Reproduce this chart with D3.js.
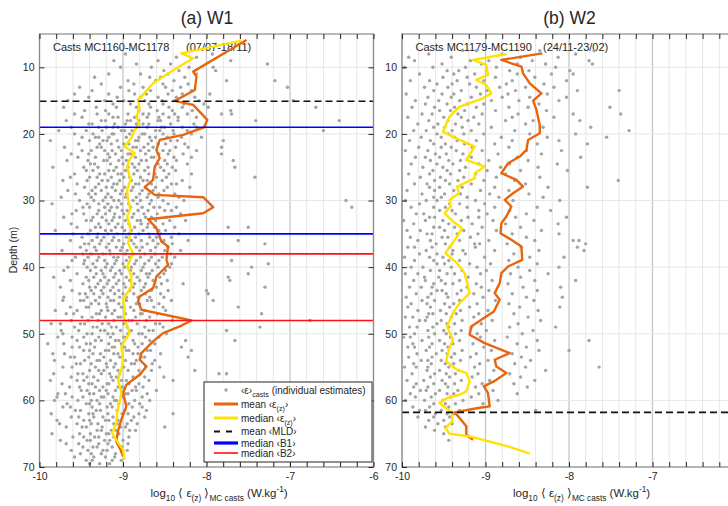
<!DOCTYPE html>
<html>
<head>
<meta charset="utf-8">
<script src="https://cdn.jsdelivr.net/npm/d3@7"></script>
<style>
    body { margin: 0; background: #fff; }
    text { font-family: "Liberation Sans", Arial, sans-serif; fill: #262626; }
</style>
</head>
<body>
<svg id="chart" width="728" height="506"></svg>
<script>
// ---- data ----
const titles = ["(a) W1", "(b) W2"];
const castLabels = ["Casts MC1160-MC1178", "Casts MC1179-MC1190"];
const dateLabels = ["(07/07-18/11)", "(24/11-23/02)"];
const xTicksW1 = [-10, -9, -8, -7, -6];
const xTicksW2 = [-10, -9, -8, -7];   // -6 falls outside the picture
const yTicks = [10, 20, 30, 40, 50, 60, 70];

// [depth (m), log10 eps]
const meanW1 = [[5.9,-7.52],[10.65,-8.16],[11.4,-8.12],[13.4,-8.14],[15.05,-8.38],[15.65,-8.16],[17.9,-7.99],[19.0,-8.03],
    [20.15,-8.28],[20.9,-8.56],[22.4,-8.60],[23.65,-8.56],[24.9,-8.62],[26.9,-8.64],[28.0,-8.74],[29.15,-8.62],[29.5,-8.04],
    [31.0,-7.92],[31.9,-8.04],[32.8,-8.70],[34.15,-8.60],[36.15,-8.54],[36.9,-8.46],[38.9,-8.48],[39.65,-8.46],[41.4,-8.60],
    [42.4,-8.62],[43.15,-8.64],[44.4,-8.80],[45.15,-8.82],[46.4,-8.78],[48.0,-8.18],[48.9,-8.32],[49.9,-8.52],[51.15,-8.64],
    [52.9,-8.78],[53.9,-8.80],[54.9,-8.72],[56.15,-8.80],[57.65,-8.96],[58.9,-9.0],[60.9,-8.96],[62.9,-9.02],[64.6,-9.06],
    [66.15,-9.08],[67.4,-9.03],[68.4,-9.0]];
const medianW1 = [[6.0,-7.58],[7.9,-8.30],[8.65,-8.16],[10.15,-8.36],[12.4,-8.64],[14.4,-8.78],[14.9,-8.82],[16.2,-8.80],
    [17.4,-8.84],[18.65,-8.80],[19.4,-8.86],[20.6,-8.90],[21.9,-8.98],[22.9,-8.86],[23.8,-8.92],[24.9,-8.95],[26.9,-8.91],
    [28.4,-8.95],[29.9,-8.94],[31.2,-8.91],[32.4,-8.95],[33.6,-8.92],[34.9,-8.91],[36.4,-8.94],[37.9,-8.88],[39.9,-8.95],
    [41.3,-8.90],[42.9,-8.90],[44.9,-9.0],[46.2,-8.98],[47.4,-8.99],[49.9,-8.92],[51.9,-9.02],[53.9,-9.0],[55.4,-9.02],
    [56.9,-9.06],[58.9,-9.02],[61.9,-9.07],[63.4,-9.08],[64.9,-9.13],[66.15,-9.07],[67.4,-9.0],[68.9,-8.98]];
const meanW2 = [[7.9,-8.32],[8.9,-8.81],[9.9,-8.57],[10.9,-8.55],[12.4,-8.47],[13.9,-8.33],[15.0,-8.43],[16.4,-8.39],
    [18.65,-8.35],[19.9,-8.35],[20.9,-8.49],[22.4,-8.51],[23.4,-8.59],[24.4,-8.73],[25.9,-8.81],[26.9,-8.63],[27.9,-8.55],
    [28.9,-8.67],[29.9,-8.77],[30.9,-8.69],[32.4,-8.75],[33.4,-8.81],[34.9,-8.82],[35.9,-8.69],[36.9,-8.57],[38.9,-8.56],
    [39.9,-8.73],[40.9,-8.81],[42.4,-8.83],[43.9,-8.89],[44.9,-8.83],[46.65,-8.90],[47.9,-9.05],[48.9,-9.17],[50.15,-9.19],
    [51.4,-9.01],[52.9,-8.71],[53.9,-8.89],[54.9,-8.87],[55.9,-8.75],[57.15,-8.90],[57.9,-9.02],[58.9,-8.97],[60.9,-8.95],
    [61.15,-9.09],[61.8,-9.37],[62.65,-9.31],[63.9,-9.23],[65.15,-9.23],[65.9,-9.15]];
const medianW2 = [[8.0,-8.75],[8.9,-9.15],[9.65,-8.99],[11.15,-8.97],[11.9,-9.11],[12.65,-8.99],[13.9,-8.93],[14.65,-9.03],
    [15.9,-9.31],[17.4,-9.43],[19.65,-9.51],[20.9,-9.31],[21.9,-9.13],[23.9,-9.23],[24.9,-9.01],[25.9,-9.13],[26.65,-9.13],
    [27.9,-9.34],[28.9,-9.32],[29.9,-9.43],[30.9,-9.42],[31.9,-9.49],[33.15,-9.39],[34.15,-9.28],[35.4,-9.34],[37.9,-9.48],
    [39.4,-9.34],[40.9,-9.25],[43.9,-9.19],[45.4,-9.31],[46.9,-9.39],[48.9,-9.46],[50.9,-9.39],[52.4,-9.44],[54.15,-9.47],
    [55.4,-9.34],[55.9,-9.23],[57.15,-9.19],[58.65,-9.23],[59.15,-9.31],[59.65,-9.46],[60.4,-9.55],[61.9,-9.40],[63.15,-9.40],
    [64.15,-9.48],[65.0,-9.43],[65.4,-9.19],[66.9,-8.73],[68.0,-8.47]];

const mldW1 = [15.1];
const b1W1 = [19.0, 35.0];
const b2W1 = [38.0, 48.0];
const mldW2 = [61.8];

// individual estimates: each row = depth, then values as hundredths of -log10 eps (905 -> -9.05)
const castsW1 = `
8.0 897 793
8.5 836 812
9.0 911 858 771
9.5 884 843 727
10.0 903 866 821 792
10.5 851 833 789
11.0 917 879 846 812
11.5 934 868 855 826
12.0 894 861 839 776 718
12.5 926 887 852 822
13.0 952 903 876 849 831 703
13.5 937 893 867 841 818
14.0 958 917 886 872 846 829 796
14.5 941 907 879 858 836 814
15.0 966 922 899 874 853 838 809 761 696
15.5 912 891 869 852 827 803
16.0 971 932 908 884 867 845 829 798 669
16.5 946 921 881 859 841 817 771
17.0 958 931 917 894 876 869 852 838 823 782 770
17.5 949 912 906 886 884 871 857 845 834 812
18.0 968 926 921 895 891 881 858 855 834 741 641
18.5 941 937 910 897 884 876 869 843 815
19.0 962 929 920 912 906 883 871 854 850 829 812
19.5 977 944 925 902 898 889 861 856 840 823 660
20.0 958 936 913 911 892 877 874 852 839 818
20.5 949 933 929 917 896 881 868 861 847 830 806
21.0 987 940 924 919 907 885 882 866 843 835 780
21.5 953 928 914 899 893 870 858 849 826
22.0 970 931 926 905 888 884 875 864 837 822 782
22.5 949 938 922 913 902 879 869 852 844 812
23.0 962 941 918 909 894 891 873 857 846 828 782
23.5 954 933 916 901 885 866 863 839 818
24.0 967 942 923 919 905 896 878 872 850 836 768
24.5 939 934 915 900 889 881 858 847 823
25.0 984 947 930 908 894 886 870 855 841 766
25.5 944 936 917 911 897 883 874 851 837
26.0 958 928 922 906 902 887 869 862 845 818
26.5 963 940 931 914 899 892 879 860 848 742
27.0 972 943 925 918 904 890 876 871 853 829
27.5 955 929 911 907 885 881 866 842 836
28.0 946 933 920 913 898 888 873 861 847 820
28.5 966 937 926 909 901 890 877 864 851
29.0 957 941 933 918 903 896 880 869 857 838
29.5 974 938 921 914 897 884 871 858 833
30.0 952 935 924 911 905 888 879 866 852 827 633
30.5 985 943 929 918 902 893 883 868 846
31.0 948 940 922 914 907 891 877 863 856 836 626
31.5 956 929 916 901 895 882 870 850 842
32.0 961 947 931 921 910 899 887 875 859 831
32.5 971 936 925 911 904 889 873 866 848
33.0 944 938 920 913 897 883 879 861 844 825
33.5 962 929 917 906 893 878 870 852
34.0 955 933 927 909 901 886 871 862 838 774 750
34.5 981 939 921 914 898 890 876 857 849
35.0 960 942 930 918 907 893 881 869 855 833
35.5 949 931 923 911 896 885 868 860 842
36.0 963 937 926 913 905 890 878 864 851 822 762
36.5 946 941 928 917 899 887 871 858 841 730
37.0 951 934 920 908 901 884 877 861 846
37.5 973 944 932 916 903 895 880 867 850 831
38.0 948 938 924 915 897 888 874 862 843
38.5 957 942 929 911 906 892 879 866 853 838
39.0 961 946 931 922 908 896 884 869 857 770
39.5 947 936 919 910 900 886 874 861 842 726
40.0 966 943 933 921 913 898 890 876 858 844 746
40.5 971 939 926 915 904 891 878 865 849
41.0 955 932 924 909 902 887 872 868 851 750
41.5 983 944 935 922 911 896 883 870 856 774
42.0 963 941 927 917 905 892 880 864 847 772
42.5 948 930 919 908 899 886 873 854 828
43.0 975 940 933 923 912 897 888 875 860 730
43.5 961 938 926 915 905 892 878 866 846 800
44.0 952 945 935 924 910 900 887 873 855 798
44.5 971 943 928 918 904 896 882 868 851
45.0 972 951 947 933 915 911 896 871 866 842 792
45.5 938 929 920 905 884 880 857
46.0 963 944 941 919 902 899 891 863 852 762
46.5 981 955 926 918 910 887 874 849
47.0 968 959 932 928 913 897 879 877 859 734
47.5 949 937 921 906 903 885 868 840
48.0 962 942 930 911 893 889 872 841 676
48.5 986 975 951 946 925 917 899 883 861 856
49.0 958 936 931 914 908 895 874 852 736
49.5 974 953 927 922 903 890 869 864 776
50.0 972 943 937 918 912 894 881 877 848
50.5 978 961 947 929 915 899 896 873 857
51.0 955 933 926 909 905 888 868 825 766
51.5 990 971 944 939 917 902 886 877 862
52.0 961 952 934 913 910 898 882 830
52.5 947 940 921 917 896 893 871 867 818
53.0 984 970 936 927 911 906 888 882 855
53.5 963 958 941 923 904 901 878 874 822
54.0 982 946 931 928 915 897 884 862
54.5 956 951 938 920 909 890 886 865
55.0 972 961 933 919 911 899 873 856
55.5 940 929 923 906 894 881 866 814
56.0 983 954 948 926 916 904 879 785 776
56.5 962 943 935 914 908 888 874 851
57.0 987 955 947 930 912 902 896 869 840
57.5 973 941 937 919 917 893 881
58.0 964 952 933 924 906 901 885 876
58.5 950 943 928 920 909 889 884 860
59.0 978 969 940 935 918 897 894 871
59.5 979 961 948 926 923 912 900 877
60.0 982 954 938 931 910 908 886 868
60.5 967 944 940 928 915 905 893 880
61.0 972 963 937 919 913 889 877
61.5 957 951 932 927 907 898 872
62.0 986 941 936 918 901 894 881 840
62.5 962 953 935 924 912 887 874
63.0 979 947 940 921 917 906 890
63.5 976 955 938 930 911 907 895 883
64.0 968 949 944 925 903 897 850
64.5 931 926 914 908 892 885
65.0 985 952 939 920 917 905
65.5 960 947 934 929 911 893
66.0 975 943 939 922 916 900
66.5 968 953 929 918 906 894
67.0 948 936 931 913 901
67.5 962 942 924 919 895
68.0 951 938 926 909
68.5 958 935 921 910
69.0 944 937 913 902
69.5 940 928 916
`;

const castsW2 = `
7.5 927 911 835 770
8.0 968 880 792
8.5 992 941 858 813
9.0 985 918 896 844 776
9.5 952 905 862 828 772
10.0 997 963 924 887 816
10.5 946 932 871 848 799
11.0 979 938 913 862 821 795
11.5 951 922 888 841
12.0 990 967 934 902 868 803
12.5 958 940 919 875 830
13.0 973 945 911 883 852 818
13.5 962 929 898 864 790 740
14.0 995 952 938 906 873 826
14.5 969 941 917 880 847 803
15.0 984 956 931 893 860 812
15.5 972 946 922 902 836
16.0 988 961 937 911 872 849 751
16.5 955 942 925 888 827
17.0 976 964 933 904 861 795 738
17.5 993 950 929 914 868 818
18.0 968 945 921 876 843 787
18.5 981 957 936 908 852
19.0 962 949 928 893 831 774
19.5 986 971 940 917 865 728
20.0 958 944 926 902 847 792
20.5 977 953 937 881 826 755
21.0 991 966 934 911 868 812
21.5 962 948 925 889 838 778
22.0 980 953 941 916 872
22.5 996 969 935 904 851 809
23.0 960 947 927 885 833
23.5 984 972 955 917 862 786
24.0 966 944 930 896 849
24.5 989 958 939 908 871 814
25.0 975 951 924 882 837
25.5 963 946 931 898 858 802
26.0 992 967 942 912 876
26.5 978 954 926 887 835
27.0 961 948 933 902 865 741
27.5 985 970 943 917 852
28.0 967 955 928 889 825 778
28.5 994 961 938 906 872
29.0 976 949 930 895 848
29.5 962 953 922 884 831
30.0 996 971 958 912 867 811
30.5 979 943 931 901
31.0 989 962 948 922 889 838
31.5 955 940 908 871 822
32.0 983 974 936 898 851
32.5 967 961 921 908 864 803
33.0 998 972 951 929 891 842
33.5 986 944 916 876 813
34.0 962 955 937 904 858
34.5 994 978 949 926 887 833
35.0 970 964 934 909 868 812
35.5 990 952 945 918 851
36.0 981 966 931 896 841 795 788
36.5 959 948 913 907 874 780
37.0 993 985 964 943 912 857 790
37.5 971 939 927 889 836 782
38.0 979 958 940 924 866
38.5 997 967 951 901 847 806
39.0 985 962 944 931 872
39.5 958 949 919 894 838
40.0 989 975 941 910 861 812
40.5 966 955 928 899 847
41.0 996 981 946 937 906 870 825
41.5 973 956 921 858
42.0 986 972 953 931 892 841 792
42.5 962 948 939 911 873
43.0 991 977 964 922 905 855 810
43.5 958 952 929 896 838
44.0 983 965 947 934 914 868
44.5 995 969 945 903 851 808
45.0 976 961 931 888 842
45.5 989 970 949 938 910 872
46.0 993 966 943 919 859 811
46.5 981 954 930 897 837
47.0 968 963 947 935 908 866
47.5 996 987 970 941 914 849
48.0 979 972 953 928 892 834
48.5 958 946 937 905 861
49.0 991 982 963 944 917 871 816
49.5 969 950 929 899 843
50.0 985 961 947 936 910 856
50.5 998 990 968 942 906 874
51.0 976 955 931 889 838 776
51.5 987 964 949 939 915 862
52.0 993 985 967 945 902 851
52.5 971 952 928 893 836 800
53.0 982 959 946 937 911 868
53.5 992 964 941 918 857
54.0 977 969 953 930 897 846
54.5 986 965 948 938 907 865
55.0 997 983 969 944 913 852 764
55.5 970 955 932 890 828
56.0 988 961 947 936 909 871
56.5 966 943 916 858
57.0 994 974 952 929 895 841
57.5 983 962 948 937 904 866
58.0 986 969 945 912 850
58.5 978 971 955 933 891
59.0 990 960 946 938 908 862
59.5 984 965 942 917
60.0 996 973 951 927 885
60.5 962 948 936 903
61.0 987 967 944
61.5 979 972 953 931 840
62.0 960 946 938
62.5 981 962 943
63.0 968 950
63.5 957 940
64.0 972 948
64.5 961
65.0 950
66.0 944
`;

const panels = [
    {left: 39.5, title: titles[0], cast: castLabels[0], date: dateLabels[0], dateX: 186, casts: castsW1, xTicks: xTicksW1,
        mean: meanW1, median: medianW1, mld: mldW1, b1: b1W1, b2: b2W1, legend: true},
    {left: 402, title: titles[1], cast: castLabels[1], date: dateLabels[1], dateX: 543, casts: castsW2, xTicks: xTicksW2,
        mean: meanW2, median: medianW2, mld: mldW2, b1: [], b2: [], legend: false}
];

const colors = {pt: "#a3a3a3", mean: "#e8650e", median: "#ffe200", mld: "#111", b1: "#0000ff", b2: "#ff1010"};

function parseCasts(str) {
    const pts = [];
    str.trim().split("\n").forEach(line => {
        const f = line.trim().split(/\s+/).map(Number);
        f.slice(1).forEach(n => pts.push([f[0], -n / 100]));
    });
    return pts;
}

// rich text with sub / superscripts
function rich(sel, parts, size) {
    let shift = 0;
    parts.forEach(([t, k]) => {
        const target = k === "sub" ? size * 0.35 : k === "sup" ? -size * 0.42 : 0;
        sel.append("tspan")
            .attr("dy", target - shift)
            .attr("font-size", k ? size * 0.72 : size)
            .text(t);
        shift = target;
    });
}

const svg = d3.select("#chart");
const plotTop = 34, plotBottom = 467, plotW = 334;

panels.forEach((p, i) => {
    const x = d3.scaleLinear().domain([-10, -6]).range([p.left, p.left + plotW]);
    const y = d3.scaleLinear().domain([5, 70]).range([plotTop, plotBottom]);
    const g = svg.append("g");

    g.append("clipPath").attr("id", `clip${i}`)
        .append("rect").attr("x", p.left).attr("y", plotTop).attr("width", plotW).attr("height", plotBottom - plotTop);

    // grid
    const minor = x.ticks(20);
    const isMajor = d => Math.abs(d - Math.round(d)) < 1e-6;
    g.append("g").selectAll("line").data(minor).enter().append("line")
        .attr("x1", d => x(d)).attr("x2", d => x(d)).attr("y1", plotTop).attr("y2", plotBottom)
        .attr("stroke", d => isMajor(d) ? "#c6c6c6" : "#e6e6e6")
        .attr("stroke-width", d => isMajor(d) ? 1.3 : 1);
    g.append("g").selectAll("line").data(yTicks).enter().append("line")
        .attr("x1", p.left).attr("x2", p.left + plotW).attr("y1", d => y(d)).attr("y2", d => y(d))
        .attr("stroke", "#e6e6e6");

    // text labels inside plot
    g.append("text").attr("x", p.left + 13.5).attr("y", 51).attr("font-size", 11).text(p.cast);
    g.append("text").attr("x", p.dateX).attr("y", 51).attr("font-size", 11).text(p.date);

    const plot = g.append("g").attr("clip-path", `url(#clip${i})`);

    plot.append("g").selectAll("circle").data(parseCasts(p.casts)).enter().append("circle")
        .attr("cx", d => x(d[1])).attr("cy", d => y(d[0])).attr("r", 1.7)
        .attr("fill", colors.pt);

    const line = d3.line().x(d => x(d[1])).y(d => y(d[0]));
    plot.append("path").datum(p.mean).attr("d", line)
        .attr("fill", "none").attr("stroke", colors.mean).attr("stroke-width", 2.4).attr("stroke-linejoin", "round");
    plot.append("path").datum(p.median).attr("d", line)
        .attr("fill", "none").attr("stroke", colors.median).attr("stroke-width", 2.4).attr("stroke-linejoin", "round");

    const hline = (vals, color, w, dash) => plot.append("g").selectAll("line").data(vals).enter().append("line")
        .attr("x1", p.left).attr("x2", p.left + plotW).attr("y1", d => y(d)).attr("y2", d => y(d))
        .attr("stroke", color).attr("stroke-width", w).attr("stroke-dasharray", dash);
    hline(p.b1, colors.b1, 1.6, null);
    hline(p.b2, colors.b2, 1.6, null);
    hline(p.mld, colors.mld, 1.6, "7,4");

    // box and ticks
    g.append("rect").attr("x", p.left).attr("y", plotTop).attr("width", plotW).attr("height", plotBottom - plotTop)
        .attr("fill", "none").attr("stroke", "#8a8a8a").attr("stroke-width", 1.2);

    const tickStyle = a => { a.select(".domain").remove(); a.selectAll("line").attr("stroke", "#262626"); };
    g.append("g").attr("transform", `translate(0,${plotBottom})`)
        .call(d3.axisBottom(x).tickValues(minor).tickSize(-5).tickFormat("")).call(tickStyle);
    g.append("g").attr("transform", `translate(0,${plotTop})`)
        .call(d3.axisTop(x).tickValues(minor).tickSize(-5).tickFormat("")).call(tickStyle);
    g.append("g").attr("transform", `translate(${p.left},0)`)
        .call(d3.axisLeft(y).tickValues(yTicks).tickSize(-5).tickFormat("")).call(tickStyle);
    g.append("g").attr("transform", `translate(${p.left + plotW},0)`)
        .call(d3.axisRight(y).tickValues(yTicks).tickSize(-5).tickFormat("")).call(tickStyle);

    // tick labels
    const xl = g.append("g").attr("transform", `translate(0,${plotBottom})`)
        .call(d3.axisBottom(x).tickValues(p.xTicks).tickSize(0).tickPadding(6).tickFormat(d => String(d)));
    xl.select(".domain").remove();
    xl.selectAll("text").attr("font-size", 10.5).attr("font-family", null).attr("fill", "#262626");
    const yl = g.append("g").attr("transform", `translate(${p.left},0)`)
        .call(d3.axisLeft(y).tickValues(yTicks).tickSize(0).tickPadding(5).tickFormat(d => String(d)));
    yl.select(".domain").remove();
    yl.selectAll("text").attr("font-size", 10.5).attr("font-family", null).attr("fill", "#262626");

    // titles
    g.append("text").attr("x", p.left + 167.5).attr("y", 24).attr("text-anchor", "middle")
        .attr("font-size", 17.5).text(p.title);

    const xlab = g.append("text").attr("x", p.left + 111).attr("y", 497);
    rich(xlab, [["log"], ["10", "sub"], [" \u27e8 \u03b5"], ["(z)", "sub"], [" \u27e9"], ["MC casts", "sub"],
        ["  (W.kg"], ["-1", "sup"], [")"]], 11.5);

    if (p.legend) {
        const lg = g.append("g");
        lg.append("rect").attr("x", 204).attr("y", 382).attr("width", 168).attr("height", 80)
            .attr("fill", "#fff").attr("stroke", "#262626").attr("stroke-width", 1);
        const items = [
            {y: 390, kind: "pt", parts: [["\u2039\u03b5\u203a"], ["casts", "sub"], [" (individual estimates)"]]},
            {y: 404, kind: "line", color: colors.mean, w: 3, parts: [["mean \u2039\u03b5"], ["(z)", "sub"], ["\u203a"]]},
            {y: 418, kind: "line", color: colors.median, w: 3, parts: [["median \u2039\u03b5"], ["(z)", "sub"], ["\u203a"]]},
            {y: 431.5, kind: "line", color: colors.mld, w: 1.8, dash: "6,6", parts: [["mean \u2039MLD\u203a"]]},
            {y: 443, kind: "line", color: colors.b1, w: 3.2, parts: [["median \u2039B1\u203a"]]},
            {y: 453, kind: "line", color: colors.b2, w: 1.6, parts: [["median \u2039B2\u203a"]]}
        ];
        items.forEach(it => {
            if (it.kind === "pt") {
                lg.append("circle").attr("cx", 226).attr("cy", it.y).attr("r", 1.7).attr("fill", colors.pt);
            } else {
                lg.append("line").attr("x1", 214).attr("x2", 238).attr("y1", it.y).attr("y2", it.y)
                    .attr("stroke", it.color).attr("stroke-width", it.w).attr("stroke-dasharray", it.dash || null);
            }
            const t = lg.append("text").attr("x", 241).attr("y", it.y + 3.5);
            rich(t, it.parts, 10);
        });
    }
});

svg.append("text").attr("transform", "translate(17,250) rotate(-90)").attr("text-anchor", "middle")
    .attr("font-size", 10.5).text("Depth (m)");
</script>
</body>
</html>
